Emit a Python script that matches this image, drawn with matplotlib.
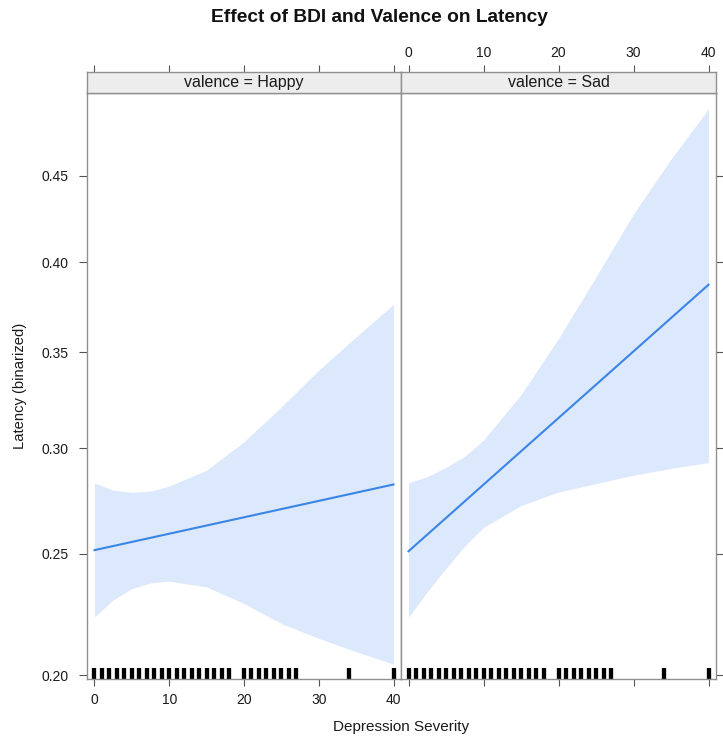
import matplotlib
matplotlib.use("Agg")
import matplotlib.pyplot as plt
from matplotlib.ticker import FixedLocator, FixedFormatter, NullLocator

plt.rcParams['font.family'] = ['Liberation Sans', 'DejaVu Sans']

# ---------------------------------------------------------------
#   values (probability scale)
# ---------------------------------------------------------------
panels = ["Happy", "Sad"]
bdi_grid = [0, 2.5, 5, 7.5, 10, 15, 20, 25, 30, 35, 40]
fit_x = [0, 40]

happy_fit = [0.2517, 0.2822]
happy_lower = [0.2230, 0.2301, 0.2349, 0.2373, 0.2381, 0.2356, 0.2286, 0.2203, 0.2143, 0.2090, 0.2042]
happy_upper = [0.2829, 0.2795, 0.2784, 0.2790, 0.2814, 0.2891, 0.3032, 0.3210, 0.3403, 0.3583, 0.3762]

sad_fit = [0.2512, 0.3872]
sad_lower = [0.2229, 0.2335, 0.2437, 0.2535, 0.2620, 0.2722, 0.2786, 0.2826, 0.2867, 0.2900, 0.2929]
sad_upper = [0.2830, 0.2860, 0.2905, 0.2960, 0.3040, 0.3273, 0.3573, 0.3916, 0.4278, 0.4599, 0.4897]

# BDI scores of the observations (rug)
rug_bdi = list(range(0, 19)) + list(range(20, 28)) + [34, 40]

y_ticks = [0.20, 0.25, 0.30, 0.35, 0.40, 0.45]
y_labels = ["0.20", "0.25", "0.30", "0.35", "0.40", "0.45"]
x_ticks = [0, 10, 20, 30, 40]

fits = [happy_fit, sad_fit]
lowers = [happy_lower, sad_lower]
uppers = [happy_upper, sad_upper]

#-------------------------------------#
#--            layout               --#
#-------------------------------------#
W, H = 723, 742
fig = plt.figure(figsize=(W / 100, H / 100), dpi=100)

def box(x0, y0, x1, y1):
    return [x0 / W, 1 - y1 / H, (x1 - x0) / W, (y1 - y0) / H]

panel_x = [(87, 401), (401, 716)]
panel_y = (92.5, 679)
strip_y = (72.3, 92.5)

border = '#8f8f8f'
tick_col = '#555555'
band_col = '#dce8fb'
line_col = '#3a86e6'
txt_col = '#1a1a1a'

axes = []
for i, name in enumerate(panels):
    x0, x1 = panel_x[i]
    ax = fig.add_axes(box(x0, panel_y[0], x1, panel_y[1]),
                      sharey=axes[0] if axes else None)
    st = fig.add_axes(box(x0, strip_y[0], x1, strip_y[1]), sharex=ax)
    axes.append(ax)

    # band + fitted line
    ax.fill_between(bdi_grid, lowers[i], uppers[i], color=band_col, linewidth=0)
    ax.plot(fit_x, fits[i], color=line_col, lw=1.5)

    # rug
    for b in rug_bdi:
        ax.axvline(b, 0, 0.019, color='black', lw=3.1, solid_capstyle='butt')

    ax.set_yscale('logit')
    ax.set_ylim(0.1985, 0.4994)
    ax.set_xlim(-1, 41)
    ax.yaxis.set_major_locator(FixedLocator(y_ticks))
    ax.yaxis.set_major_formatter(FixedFormatter(y_labels))
    ax.yaxis.set_minor_locator(NullLocator())
    ax.xaxis.set_major_locator(FixedLocator(x_ticks))

    for s in ax.spines.values():
        s.set_color(border)
        s.set_linewidth(1.0)
    ax.tick_params(direction='out', length=5, width=0.8, color=tick_col,
                   labelsize=10, labelcolor=txt_col, pad=5)
    ax.tick_params(axis='y', length=6, pad=7)

    # strip
    st.set_facecolor('#ededed')
    for s in st.spines.values():
        s.set_color(border)
        s.set_linewidth(1.0)
    st.set_yticks([])
    st.text(0.5, 0.5, "valence = " + name, transform=st.transAxes,
            ha='center', va='center', fontsize=11.5, color=txt_col)
    st.tick_params(axis='x', direction='out', length=5, width=0.8, color=tick_col,
                   labelsize=10, labelcolor=txt_col, pad=4,
                   top=True, bottom=False, labelbottom=False, labeltop=(i == 1))

    if i == 0:
        ax.tick_params(axis='y', left=True, right=False, labelleft=True)
        ax.tick_params(axis='x', bottom=True, labelbottom=True)
    else:
        ax.tick_params(axis='y', left=False, right=True, labelleft=False, labelright=False)
        ax.tick_params(axis='x', bottom=True, labelbottom=False)

fig.text(379 / W, 1 - 18 / H, "Effect of BDI and Valence on Latency",
         ha='center', va='center', fontsize=13.8, fontweight='bold', color='#111111')
fig.text(401 / W, 1 - 727 / H, "Depression Severity",
         ha='center', va='center', fontsize=11, color=txt_col)
fig.text(20 / W, 1 - 386 / H, "Latency (binarized)", rotation=90,
         ha='center', va='center', fontsize=10.6, color=txt_col)

fig.savefig("out.png", dpi=100)
